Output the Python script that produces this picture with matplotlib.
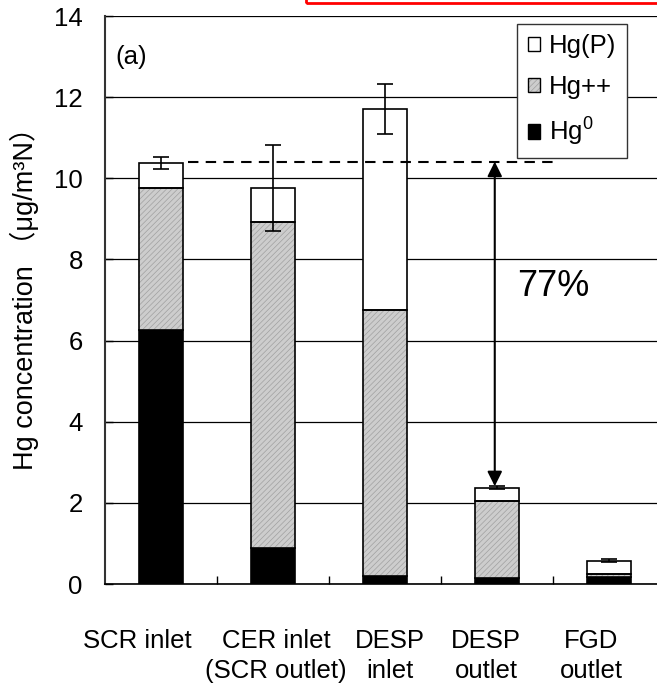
import matplotlib
matplotlib.use("Agg")
import matplotlib.pyplot as plt
from matplotlib.patches import Patch, Rectangle
import numpy as np

plt.rcParams['font.family'] = ['Liberation Sans', 'Noto Sans CJK JP', 'DejaVu Sans']
plt.rcParams['mathtext.fontset'] = 'custom'
plt.rcParams['mathtext.rm'] = 'Liberation Sans'
plt.rcParams['mathtext.it'] = 'Liberation Sans:italic'
plt.rcParams['hatch.linewidth'] = 0.5

# data
stages = ['SCR inlet', 'CER inlet\n(SCR outlet)', 'DESP\ninlet', 'DESP\noutlet', 'FGD\noutlet']
hg0 = [6.26, 0.88, 0.20, 0.16, 0.18]
hg_ox = [3.49, 8.05, 6.55, 1.89, 0.07]
hg_p = [0.63, 0.82, 4.96, 0.32, 0.32]
err = [0.14, 1.06, 0.62, 0.04, 0.04]
y_ticks = [0, 2, 4, 6, 8, 10, 12, 14]
ref_level = 10.41
removal_label = '77%'

fig = plt.figure(figsize=(6.57, 6.88), dpi=100)
ax = fig.add_axes([105 / 657, 1 - 584 / 688, 560 / 657, 568 / 688])

x = np.arange(len(stages))
w = 0.40
hg0 = np.array(hg0)
hg_ox = np.array(hg_ox)
hg_p = np.array(hg_p)
total = hg0 + hg_ox + hg_p

ax.set_axisbelow(True)
ax.grid(axis='y', color='black', lw=0.9)

# stacked bars
ax.bar(x, hg0, w, color='black', edgecolor='black', lw=1.2, zorder=3)
ax.bar(x, hg_ox, w, bottom=hg0, facecolor='#cdcdcd', edgecolor='#a0a0a0',
       hatch='//////', lw=0, zorder=3)
ax.bar(x, hg_ox, w, bottom=hg0, fill=False, edgecolor='black', lw=1.2, zorder=4)
ax.bar(x, hg_p, w, bottom=hg0 + hg_ox, color='white', edgecolor='black', lw=1.2, zorder=3)
ax.errorbar(x, total, yerr=err, fmt='none', ecolor='black', elinewidth=1.2,
            capsize=5.5, capthick=1.2, zorder=5)

# reference line and removal arrow
ax.plot([0.24, 3.52], [ref_level, ref_level], ls=(0, (5, 3.5)), color='black', lw=1.5, zorder=4)
ax.annotate('', xy=(2.98, total[3] + err[3]), xytext=(2.98, ref_level),
            arrowprops=dict(arrowstyle='<|-|>', color='black', lw=1.5,
                            mutation_scale=22, shrinkA=0, shrinkB=0), zorder=6)
ax.text(3.18, 7.34, removal_label, fontsize=26, va='center', ha='left')
ax.text(-0.41, 12.98, '(a)', fontsize=18.5, va='center', ha='left')

ax.set_xlim(-0.5, 4.5)
ax.set_ylim(0, 14)
ax.set_yticks(y_ticks)
ax.set_xticks(x[:-1] + 0.5)
ax.set_xticklabels([])
ax.tick_params(axis='y', direction='in', length=6, width=1, labelsize=18.5, pad=16)
ax.tick_params(axis='x', direction='in', length=6, width=1)
for s in ['top', 'right']:
    ax.spines[s].set_visible(False)
ax.spines['left'].set_color('#333333')
ax.spines['left'].set_linewidth(1.5)
ax.spines['bottom'].set_linewidth(1.2)

ax.set_ylabel('Hg concentration （μg/m³N）', fontsize=19.5)
ax.yaxis.set_label_coords(-0.118, 0.515)

# category labels (placed under the axis like the original)
label_x = [137, 276, 390, 486, 591]
for lab, px in zip(stages, label_x):
    fig.text(px / 657, 1 - 629 / 688, lab, fontsize=18.5, ha='center', va='top',
             linespacing=1.3)

# legend
h_p = Patch(facecolor='white', edgecolor='black', lw=1)
h_ox = (Patch(facecolor='#cdcdcd', edgecolor='#a0a0a0', hatch='//////', lw=0),
        Patch(fill=False, edgecolor='black', lw=1))
h_0 = Patch(facecolor='black', edgecolor='black', lw=1)
leg = ax.legend([h_p, h_ox, h_0], ['Hg(P)', 'Hg++', 'Hg$^0$'], fontsize=18.5,
                loc='upper right', bbox_to_anchor=(627 / 657, 1 - 24 / 688),
                bbox_transform=fig.transFigure, borderaxespad=0,
                handlelength=0.5, handleheight=0.5, handletextpad=0.35,
                labelspacing=0.65, borderpad=0.4, fancybox=False, framealpha=1)
leg.get_frame().set_edgecolor('#333333')
leg.get_frame().set_linewidth(1)
leg.set_zorder(10)

# red frame cut off at the top of the picture
fig.patches.append(Rectangle((306 / 657, 1 - 3 / 688), 0.6, 0.1, transform=fig.transFigure,
                             fill=False, edgecolor='red', lw=2, clip_on=False))

fig.savefig('out.png', dpi=100)
